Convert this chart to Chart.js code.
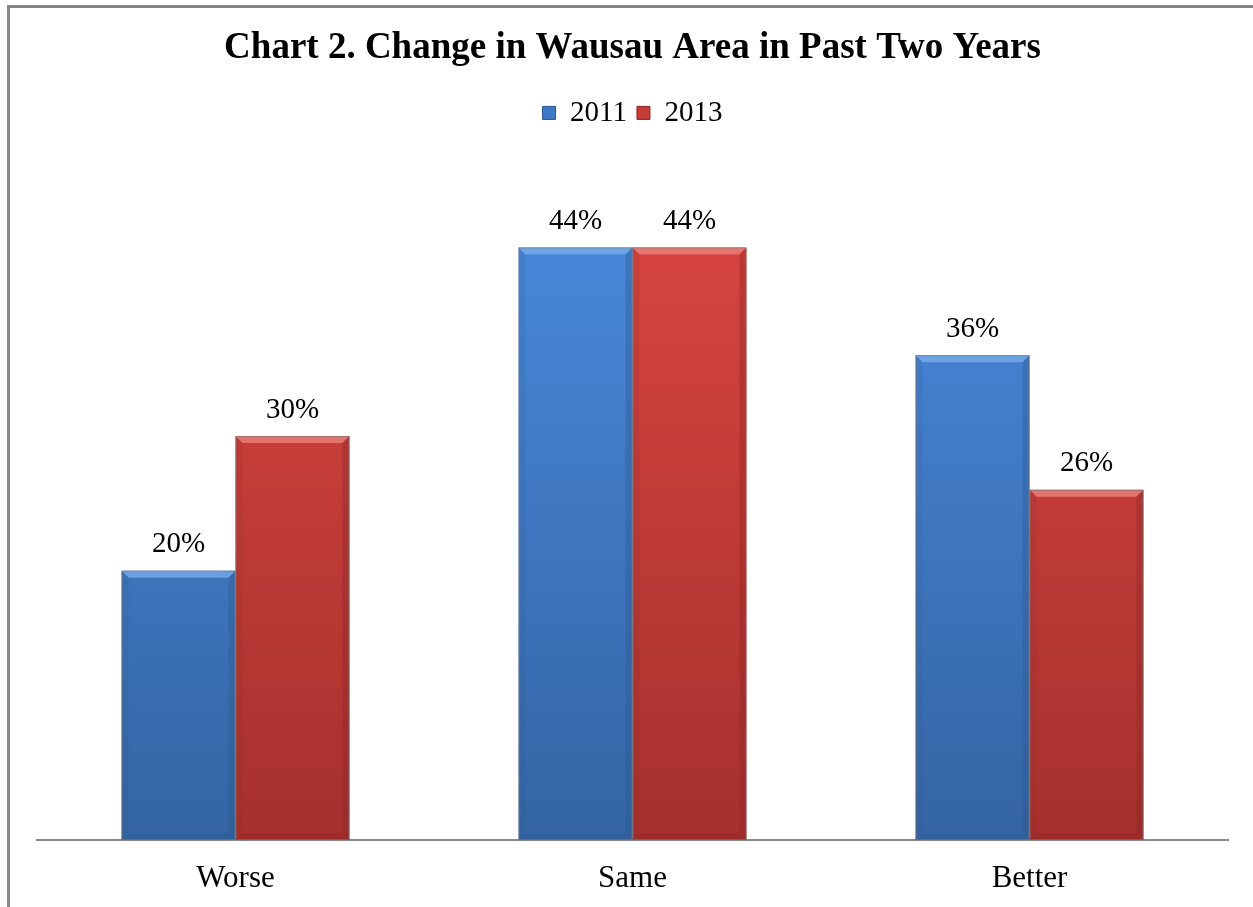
<!DOCTYPE html>
<html>
<head>
<meta charset="utf-8">
<script src="https://cdn.jsdelivr.net/npm/chart.js@4/dist/chart.umd.min.js"></script>
<style>
  html, body { margin: 0; padding: 0; background: #fff; }
  #wrap { position: relative; width: 1253px; height: 907px; overflow: hidden; }
  #frame { position: absolute; left: 7px; top: 5px; right: -10px; bottom: -10px; border-top: 3px solid #888; border-left: 3px solid #888; pointer-events: none; }
  canvas { position: absolute; left: 0; top: 0; }
</style>
</head>
<body>
<div id="wrap">
  <canvas id="c" width="1253" height="907"></canvas>
  <div id="frame"></div>
</div>
<script>
const categories = ["Worse", "Same", "Better"];
const seriesNames = ["2011", "2013"];
const values2011 = [20, 44, 36];
const values2013 = [30, 44, 26];

const palette = {
  "2011": { top: "#4b8bdf", bottom: "#3464a3", light: "#7fb2f0", dark: "#2c5690", solid: "#3f78c6" },
  "2013": { top: "#dc4743", bottom: "#a5302d", light: "#f08a85", dark: "#8a2624", solid: "#c33c38" }
};

const SERIF = '"Liberation Serif", "Times New Roman", serif';

function gradFor(name) {
  return function(ctx) {
    const chart = ctx.chart;
    const area = chart.chartArea;
    if (!area) return palette[name].solid;
    const g = chart.ctx.createLinearGradient(0, area.top, 0, area.bottom);
    g.addColorStop(0, palette[name].top);
    g.addColorStop(1, palette[name].bottom);
    return g;
  };
}

const bevelPlugin = {
  id: 'bevel',
  afterDatasetsDraw(chart) {
    const c = chart.ctx;
    chart.data.datasets.forEach((ds, di) => {
      const p = palette[ds.label];
      chart.getDatasetMeta(di).data.forEach(bar => {
        const x0 = bar.x - bar.width / 2, x1 = bar.x + bar.width / 2;
        const y0 = bar.y, y1 = bar.base;
        const b = 7;
        c.save();
        c.beginPath();
        c.moveTo(x0, y0); c.lineTo(x1, y0); c.lineTo(x1 - b, y0 + b); c.lineTo(x0 + b, y0 + b); c.closePath();
        c.fillStyle = p.light; c.globalAlpha = 0.7; c.fill();
        c.beginPath();
        c.moveTo(x1, y0); c.lineTo(x1, y1); c.lineTo(x1 - b, y1 - b); c.lineTo(x1 - b, y0 + b); c.closePath();
        c.fillStyle = p.dark; c.globalAlpha = 0.35; c.fill();
        c.beginPath();
        c.moveTo(x0, y0); c.lineTo(x0 + b, y0 + b); c.lineTo(x0 + b, y1 - b); c.lineTo(x0, y1); c.closePath();
        c.fillStyle = p.dark; c.globalAlpha = 0.15; c.fill();
        c.beginPath();
        c.moveTo(x0, y1); c.lineTo(x0 + b, y1 - b); c.lineTo(x1 - b, y1 - b); c.lineTo(x1, y1); c.closePath();
        c.fillStyle = p.dark; c.globalAlpha = 0.3; c.fill();
        c.globalAlpha = 1;
        c.strokeStyle = 'rgba(120,120,120,0.6)'; c.lineWidth = 1;
        c.strokeRect(x0 + 0.5, y0 + 0.5, bar.width - 1, y1 - y0 - 1);
        c.restore();
      });
    });
  }
};

const labelPlugin = {
  id: 'valueLabels',
  afterDatasetsDraw(chart) {
    const c = chart.ctx;
    c.save();
    c.font = '29px ' + SERIF;
    c.fillStyle = '#000';
    c.textAlign = 'center';
    c.textBaseline = 'middle';
    chart.data.datasets.forEach((ds, di) => {
      chart.getDatasetMeta(di).data.forEach((bar, i) => {
        c.fillText(ds.data[i] + '%', bar.x, bar.y - 26);
      });
    });
    c.restore();
  }
};

new Chart(document.getElementById('c'), {
  type: 'bar',
  data: {
    labels: categories,
    datasets: [
      { label: seriesNames[0], data: values2011, backgroundColor: gradFor("2011") },
      { label: seriesNames[1], data: values2013, backgroundColor: gradFor("2013") }
    ]
  },
  options: {
    responsive: false,
    animation: false,
    devicePixelRatio: 1,
    layout: { padding: { left: 37, right: 25, top: 26, bottom: 0 } },
    datasets: { bar: { categoryPercentage: 0.574, barPercentage: 1.0 } },
    plugins: {
      title: {
        display: true,
        text: 'Chart 2. Change in Wausau Area in Past Two Years',
        color: '#000',
        font: { family: SERIF, size: 37, weight: 'bold' },
        padding: { top: 0, bottom: 18 }
      },
      subtitle: {
        display: true,
        text: '',
        weight: 1,
        font: { size: 1 },
        padding: { top: 28, bottom: 0 }
      },
      legend: {
        display: true,
        position: 'top',
        weight: 1000,
        labels: {
          color: '#000',
          font: { family: SERIF, size: 29 },
          boxWidth: 13, boxHeight: 13, padding: 10,
          generateLabels(chart) {
            return chart.data.datasets.map((ds, i) => ({
              text: ds.label,
              fillStyle: palette[ds.label].solid,
              strokeStyle: palette[ds.label].dark,
              lineWidth: 1,
              datasetIndex: i,
              hidden: false
            }));
          }
        }
      },
      tooltip: { enabled: false }
    },
    scales: {
      x: {
        grid: { display: false, drawTicks: false },
        border: { display: true, color: '#888', width: 2 },
        afterFit(scale) { scale.height = 67; },
        ticks: {
          color: '#000',
          padding: 20,
          font: { family: SERIF, size: 31 }
        }
      },
      y: { display: false, min: 0, max: 50 }
    }
  },
  plugins: [bevelPlugin, labelPlugin]
});
</script>
</body>
</html>
